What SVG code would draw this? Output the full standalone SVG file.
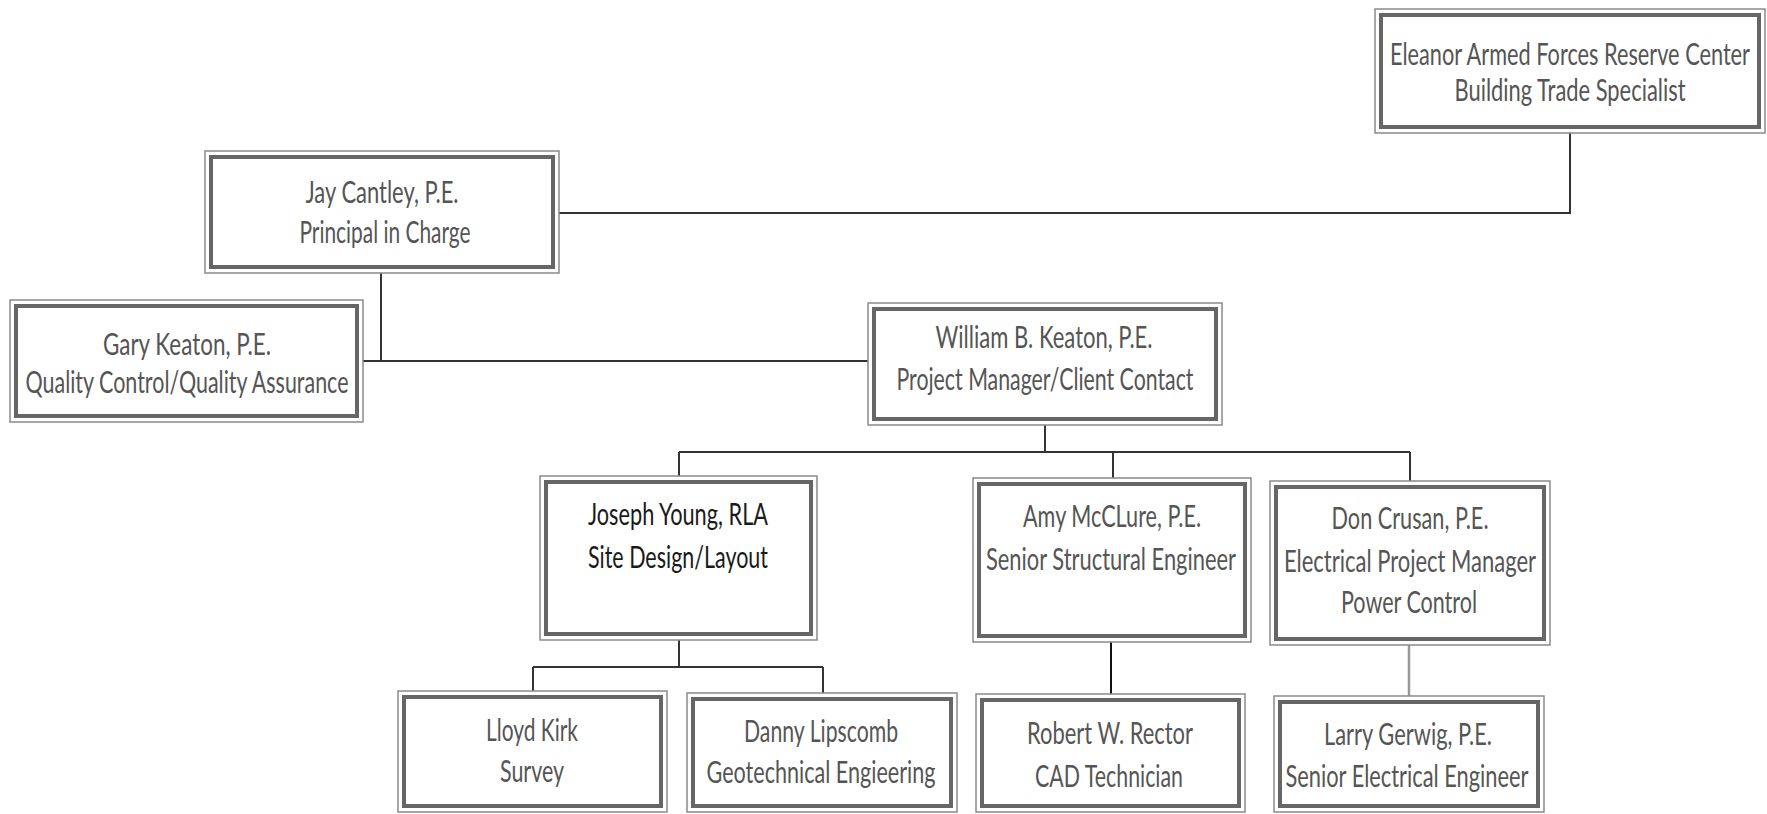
<svg xmlns="http://www.w3.org/2000/svg" width="1767" height="814" viewBox="0 0 1767 814">
<style>
.o{fill:#fff;stroke:#8a8a8a;stroke-width:1.5}
.i{fill:none;stroke:#666;stroke-width:4}
text{font-family:Lato,"Liberation Sans",sans-serif;font-size:19px;fill:#555;text-anchor:middle}
.dk{fill:#1a1a1a}
.c{fill:none;stroke:#333;stroke-width:2}
</style>
<rect width="1767" height="814" fill="#fff"/>
<g id="connectors">
<path class="c" d="M559,213 H1570 V133"/>
<path class="c" d="M381,273 V361"/>
<path class="c" d="M363,361 H868"/>
<path class="c" d="M1045,425 V452"/>
<path class="c" d="M679,452 H1410"/>
<path class="c" d="M679,452 V476 M1113,452 V478 M1410,452 V481"/>
<path class="c" d="M679,640 V667 M533,667 H823 M533,667 V691 M823,667 V693"/>
<path class="c" d="M1111,642 V694" style="stroke:#111"/>
<path class="c" d="M1409,645 V696" style="stroke:#999;stroke-width:2.5"/>
</g>
<g id="eleanor">
<rect class="o" x="1375" y="9" width="390" height="124"/>
<rect class="i" x="1381" y="15" width="378" height="112"/>
<text transform="translate(1570,65) scale(1,1.58)" textLength="360" lengthAdjust="spacingAndGlyphs">Eleanor Armed Forces Reserve Center</text>
<text transform="translate(1570,101) scale(1,1.58)" textLength="231" lengthAdjust="spacingAndGlyphs">Building Trade Specialist</text>
</g>
<g id="jay">
<rect class="o" x="205" y="151" width="354" height="122"/>
<rect class="i" x="211" y="157" width="342" height="110"/>
<text transform="translate(382,203) scale(1,1.58)" textLength="153" lengthAdjust="spacingAndGlyphs">Jay Cantley, P.E.</text>
<text transform="translate(385,243) scale(1,1.58)" textLength="171" lengthAdjust="spacingAndGlyphs">Principal in Charge</text>
</g>
<g id="gary">
<rect class="o" x="10" y="300" width="353" height="122"/>
<rect class="i" x="16" y="306" width="341" height="110"/>
<text transform="translate(187,355) scale(1,1.58)" textLength="168" lengthAdjust="spacingAndGlyphs">Gary Keaton, P.E.</text>
<text transform="translate(187,393) scale(1,1.58)" textLength="323" lengthAdjust="spacingAndGlyphs">Quality Control/Quality Assurance</text>
</g>
<g id="william">
<rect class="o" x="868" y="303" width="354" height="122"/>
<rect class="i" x="874" y="309" width="342" height="110"/>
<text transform="translate(1044,348) scale(1,1.58)" textLength="217" lengthAdjust="spacingAndGlyphs">William B. Keaton, P.E.</text>
<text transform="translate(1045,390) scale(1,1.58)" textLength="297" lengthAdjust="spacingAndGlyphs">Project Manager/Client Contact</text>
</g>
<g id="joseph">
<rect class="o" x="540" y="476" width="277" height="164"/>
<rect class="i" x="546" y="482" width="265" height="152"/>
<text class="dk" transform="translate(678,525) scale(1,1.58)" textLength="180" lengthAdjust="spacingAndGlyphs">Joseph Young, RLA</text>
<text class="dk" transform="translate(678,568) scale(1,1.58)" textLength="180" lengthAdjust="spacingAndGlyphs">Site Design/Layout</text>
</g>
<g id="amy">
<rect class="o" x="973" y="478" width="278" height="164"/>
<rect class="i" x="979" y="484" width="266" height="152"/>
<text transform="translate(1112,527) scale(1,1.58)" textLength="178" lengthAdjust="spacingAndGlyphs">Amy McCLure, P.E.</text>
<text transform="translate(1111,570) scale(1,1.58)" textLength="250" lengthAdjust="spacingAndGlyphs">Senior Structural Engineer</text>
</g>
<g id="don">
<rect class="o" x="1270" y="481" width="280" height="164"/>
<rect class="i" x="1276" y="487" width="268" height="152"/>
<text transform="translate(1410,529) scale(1,1.58)" textLength="157" lengthAdjust="spacingAndGlyphs">Don Crusan, P.E.</text>
<text transform="translate(1410,572) scale(1,1.58)" textLength="252" lengthAdjust="spacingAndGlyphs">Electrical Project Manager</text>
<text transform="translate(1409,613) scale(1,1.58)" textLength="136" lengthAdjust="spacingAndGlyphs">Power Control</text>
</g>
<g id="lloyd">
<rect class="o" x="398" y="691" width="269" height="121"/>
<rect class="i" x="404" y="697" width="257" height="109"/>
<text transform="translate(532,741) scale(1,1.58)" textLength="92" lengthAdjust="spacingAndGlyphs">Lloyd Kirk</text>
<text transform="translate(532,782) scale(1,1.58)" textLength="64" lengthAdjust="spacingAndGlyphs">Survey</text>
</g>
<g id="danny">
<rect class="o" x="687" y="693" width="270" height="119"/>
<rect class="i" x="693" y="699" width="258" height="107"/>
<text transform="translate(821,742) scale(1,1.58)" textLength="154" lengthAdjust="spacingAndGlyphs">Danny Lipscomb</text>
<text transform="translate(821,783) scale(1,1.58)" textLength="229" lengthAdjust="spacingAndGlyphs">Geotechnical Engieering</text>
</g>
<g id="robert">
<rect class="o" x="976" y="694" width="269" height="118"/>
<rect class="i" x="982" y="700" width="257" height="106"/>
<text transform="translate(1110,744) scale(1,1.58)" textLength="166" lengthAdjust="spacingAndGlyphs">Robert W. Rector</text>
<text transform="translate(1109,787) scale(1,1.58)" textLength="148" lengthAdjust="spacingAndGlyphs">CAD Technician</text>
</g>
<g id="larry">
<rect class="o" x="1274" y="696" width="270" height="116"/>
<rect class="i" x="1280" y="702" width="258" height="104"/>
<text transform="translate(1408,745) scale(1,1.58)" textLength="168" lengthAdjust="spacingAndGlyphs">Larry Gerwig, P.E.</text>
<text transform="translate(1407,787) scale(1,1.58)" textLength="243" lengthAdjust="spacingAndGlyphs">Senior Electrical Engineer</text>
</g>
</svg>
